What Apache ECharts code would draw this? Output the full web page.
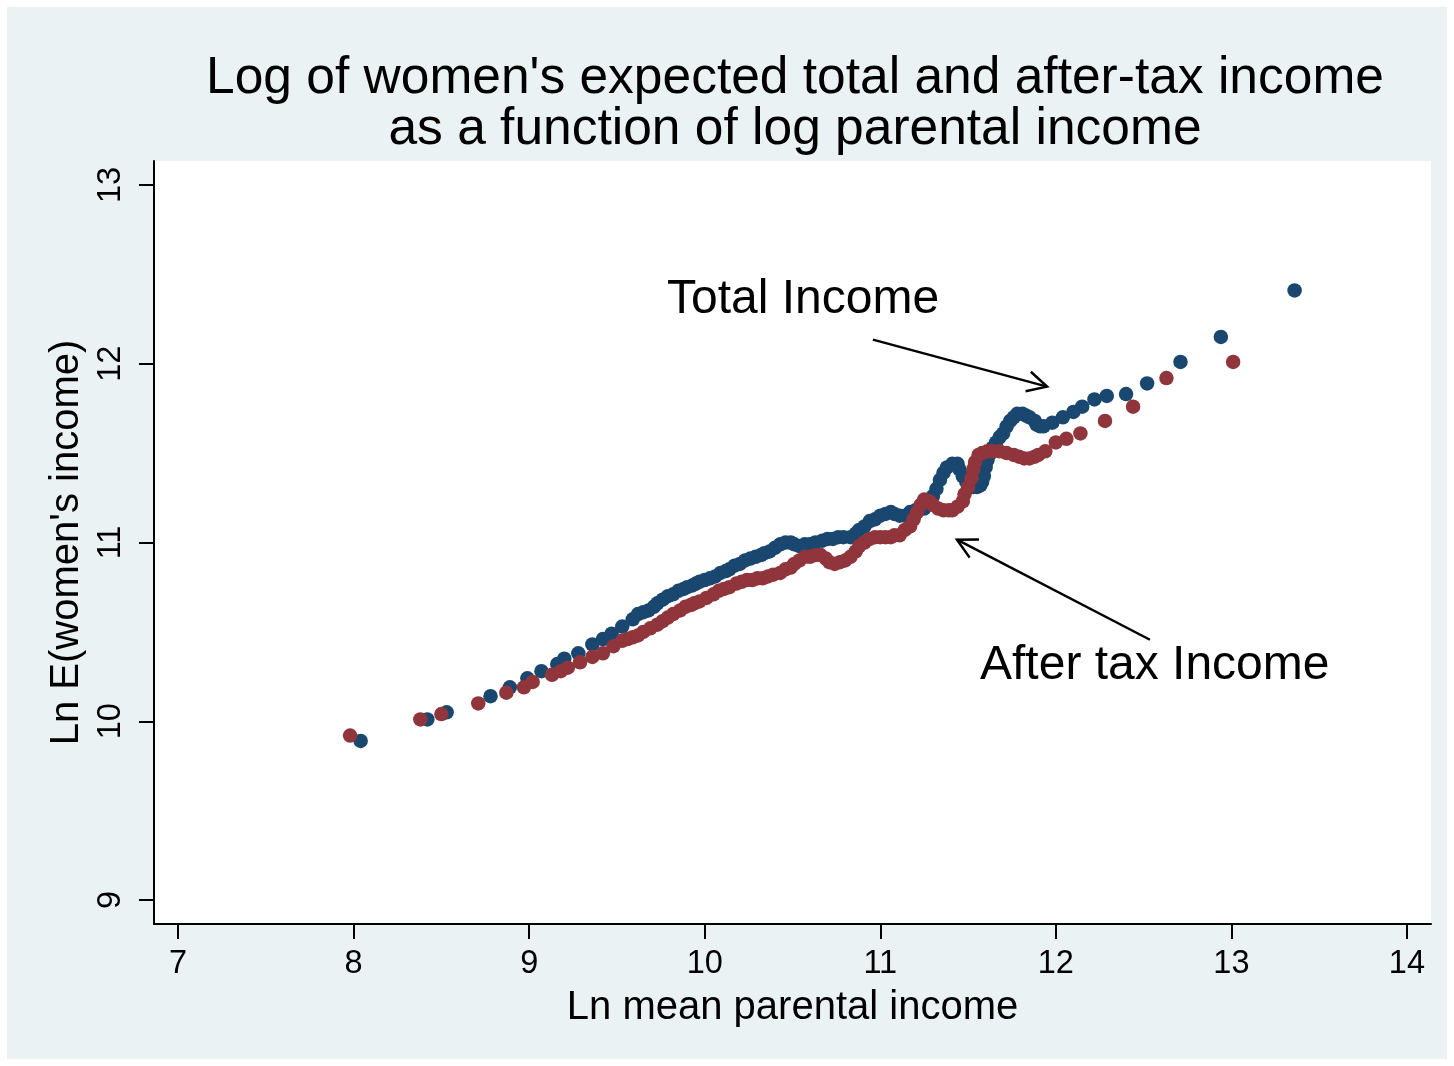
<!DOCTYPE html>
<html>
<head>
<meta charset="utf-8">
<script src="https://cdn.jsdelivr.net/npm/echarts@6/dist/echarts.min.js"></script>
<style>
  body { margin: 0; background: #fff; }
  #bg { position: absolute; left: 0; top: 0; width: 1454px; height: 1066px; box-sizing: border-box;
        border: 7px solid #fff; background: #EAF2F3; }
  #chart { position: absolute; left: 0; top: 0; width: 1454px; height: 1066px; }
</style>
</head>
<body>
<div id="bg"></div>
<div id="chart"></div>
<script>
// ln mean parental income, ln E(women's income)
const totalIncome = [
  [8.04,9.89],[8.42,10.01],[8.53,10.05],[8.78,10.14],[8.89,10.19],[8.99,10.24],[9.07,10.28],[9.16,10.32],
  [9.20,10.35],[9.28,10.38],[9.36,10.43],[9.42,10.46],[9.47,10.49],[9.53,10.53],
  [9.59,10.57],[9.62,10.60],[9.65,10.61],[9.68,10.62],[9.71,10.64],[9.73,10.66],[9.76,10.68],[9.79,10.70],
  [9.82,10.71],[9.85,10.73],[9.88,10.74],[9.90,10.75],[9.93,10.76],[9.95,10.77],[9.97,10.78],[10.00,10.79],
  [10.03,10.80],[10.06,10.81],[10.09,10.83],[10.12,10.84],[10.14,10.85],[10.17,10.87],[10.20,10.88],[10.23,10.90],
  [10.26,10.91],[10.29,10.92],[10.32,10.93],[10.34,10.94],[10.37,10.95],[10.40,10.97],[10.43,10.99],[10.46,11.00],
  [10.49,11.00],[10.51,10.99],[10.54,10.98],[10.57,10.99],[10.60,10.99],[10.63,11.00],[10.67,11.01],[10.70,11.02],
  [10.73,11.02],[10.76,11.03],[10.79,11.03],[10.83,11.03],[10.86,11.05],[10.88,11.07],[10.91,11.09],[10.94,11.12],
  [10.97,11.13],[11.00,11.15],[11.03,11.16],[11.06,11.17],[11.08,11.16],[11.11,11.15],[11.14,11.15],[11.17,11.17],
  [11.20,11.18],[11.23,11.19],[11.25,11.19],[11.28,11.22],[11.30,11.26],[11.32,11.30],[11.34,11.35],[11.36,11.39],
  [11.38,11.42],[11.41,11.44],[11.44,11.44],[11.45,11.41],[11.47,11.37],[11.49,11.34],[11.51,11.32],[11.53,11.31],
  [11.55,11.31],[11.57,11.32],[11.58,11.34],[11.59,11.37],[11.60,11.42],[11.61,11.46],[11.62,11.49],[11.64,11.53],
  [11.66,11.56],[11.68,11.59],[11.70,11.61],[11.72,11.65],[11.74,11.68],[11.76,11.70],[11.78,11.72],[11.81,11.72],
  [11.83,11.71],[11.85,11.70],[11.88,11.68],[11.89,11.66],[11.91,11.65],[11.93,11.65],
  [11.98,11.67],[12.04,11.70],[12.10,11.73],[12.15,11.76],[12.22,11.80],[12.29,11.82],[12.40,11.83],[12.52,11.89],
  [12.71,12.01],[12.94,12.15],[13.36,12.41]
];

const afterTaxIncome = [
  [7.98,9.92],[8.38,10.01],[8.50,10.04],[8.71,10.10],[8.87,10.16],[8.97,10.19],[9.02,10.22],[9.13,10.26],
  [9.18,10.28],[9.22,10.30],[9.29,10.33],[9.36,10.36],[9.42,10.38],[9.48,10.42],
  [9.53,10.45],[9.56,10.46],[9.59,10.47],[9.62,10.48],[9.65,10.50],[9.69,10.52],[9.73,10.54],[9.76,10.56],
  [9.79,10.58],[9.82,10.60],[9.86,10.62],[9.89,10.64],[9.92,10.65],[9.94,10.66],[9.97,10.67],[10.01,10.69],
  [10.05,10.71],[10.08,10.73],[10.11,10.74],[10.14,10.75],[10.18,10.77],[10.21,10.78],[10.24,10.79],[10.27,10.79],
  [10.30,10.80],[10.33,10.80],[10.36,10.81],[10.39,10.82],[10.43,10.83],[10.46,10.85],[10.49,10.86],[10.51,10.88],
  [10.54,10.90],[10.57,10.92],[10.60,10.92],[10.63,10.93],[10.66,10.93],[10.69,10.91],[10.71,10.89],[10.74,10.88],
  [10.77,10.89],[10.80,10.90],[10.83,10.92],[10.86,10.95],[10.88,10.98],[10.91,11.00],[10.94,11.02],[10.97,11.03],
  [11.00,11.03],[11.03,11.03],[11.06,11.03],[11.08,11.04],[11.11,11.04],[11.14,11.07],[11.17,11.09],[11.19,11.13],
  [11.21,11.17],[11.23,11.21],[11.25,11.24],[11.28,11.23],[11.30,11.21],[11.33,11.19],[11.36,11.18],[11.39,11.18],
  [11.41,11.18],[11.44,11.20],[11.47,11.23],[11.48,11.27],[11.50,11.31],[11.52,11.36],[11.53,11.41],[11.54,11.45],
  [11.56,11.49],[11.58,11.50],[11.61,11.51],[11.64,11.51],[11.68,11.51],[11.72,11.50],[11.76,11.49],[11.79,11.48],
  [11.82,11.47],[11.85,11.47],[11.88,11.48],[11.90,11.49],
  [11.94,11.51],[12.00,11.56],[12.06,11.58],[12.14,11.61],[12.28,11.68],[12.44,11.76],[12.63,11.92],[13.01,12.01]
];

const xTicks = [7, 8, 9, 10, 11, 12, 13, 14];
const yTicks = [9, 10, 11, 12, 13];

// annotation anchors (data coords)
const totalLabelAt = [9.785, 12.36];
const totalArrow = [[10.958, 12.135], [11.95, 11.872]];
const afterTaxLabelAt = [11.568, 10.31];
const afterTaxArrow = [[12.536, 10.456], [11.437, 11.016]];

const FONT = '"Liberation Sans", Arial, Helvetica, sans-serif';

let chart = echarts.init(document.getElementById('chart'));

chart.setOption({
  animation: false,
  title: {
    text: "Log of women's expected total and after-tax income\nas a function of log parental income",
    left: 790,
    top: 48,
    textAlign: 'center',
    textStyle: { fontFamily: FONT, fontSize: 51.5, fontWeight: 'normal', color: '#000', lineHeight: 51 }
  },
  grid: {
    left: 154, right: 23, top: 161, bottom: 142,
    show: true, backgroundColor: '#fff', borderWidth: 0
  },
  xAxis: {
    type: 'value',
    min: 6.863,
    max: 14.137,
    name: 'Ln mean parental income',
    nameLocation: 'middle',
    nameGap: 64,
    nameTextStyle: { fontFamily: FONT, fontSize: 40, color: '#000' },
    axisLine: { lineStyle: { color: '#000', width: 2 } },
    axisTick: { customValues: xTicks, length: 15, lineStyle: { color: '#000', width: 2 } },
    axisLabel: { customValues: xTicks, fontFamily: FONT, fontSize: 32.5, color: '#000', margin: 24 },
    splitLine: { show: false }
  },
  yAxis: {
    type: 'value',
    min: 8.866,
    max: 13.134,
    name: "Ln E(women's income)",
    nameLocation: 'middle',
    nameRotate: 90,
    nameGap: 63,
    nameTextStyle: { fontFamily: FONT, fontSize: 40, color: '#000' },
    axisLine: { lineStyle: { color: '#000', width: 2 } },
    axisTick: { customValues: yTicks, length: 15, lineStyle: { color: '#000', width: 2 } },
    axisLabel: { customValues: yTicks, rotate: 90, fontFamily: FONT, fontSize: 32.5, color: '#000', margin: 26 },
    splitLine: { show: false }
  },
  series: [
    {
      name: 'Total Income',
      type: 'scatter',
      symbol: 'circle',
      symbolSize: 14.5,
      itemStyle: { color: '#1A476F', opacity: 1 },
      data: totalIncome
    },
    {
      name: 'After tax Income',
      type: 'scatter',
      symbol: 'circle',
      symbolSize: 14.5,
      itemStyle: { color: '#90353B', opacity: 1 },
      data: afterTaxIncome
    }
  ]
});

function arrow(from, to) {
  let a = chart.convertToPixel({ gridIndex: 0 }, from);
  let b = chart.convertToPixel({ gridIndex: 0 }, to);
  let ang = Math.atan2(b[1] - a[1], b[0] - a[0]);
  let len = 22, spread = 0.48;
  let p1 = [b[0] - len * Math.cos(ang - spread), b[1] - len * Math.sin(ang - spread)];
  let p2 = [b[0] - len * Math.cos(ang + spread), b[1] - len * Math.sin(ang + spread)];
  return [
    { type: 'line', shape: { x1: a[0], y1: a[1], x2: b[0], y2: b[1] }, style: { stroke: '#000', lineWidth: 2.5 }, z: 10 },
    { type: 'polyline', shape: { points: [p1, b, p2] }, style: { stroke: '#000', lineWidth: 2.5, fill: null }, z: 10 }
  ];
}

function label(text, at) {
  let p = chart.convertToPixel({ gridIndex: 0 }, at);
  return {
    type: 'text', x: p[0], y: p[1], z: 10,
    style: { text: text, fontFamily: FONT, fontSize: 48, fill: '#000', align: 'left', verticalAlign: 'middle' }
  };
}

chart.setOption({
  graphic: [
    label('Total Income', totalLabelAt),
    label('After tax Income', afterTaxLabelAt)
  ].concat(arrow(totalArrow[0], totalArrow[1]), arrow(afterTaxArrow[0], afterTaxArrow[1]))
});
</script>
</body>
</html>
